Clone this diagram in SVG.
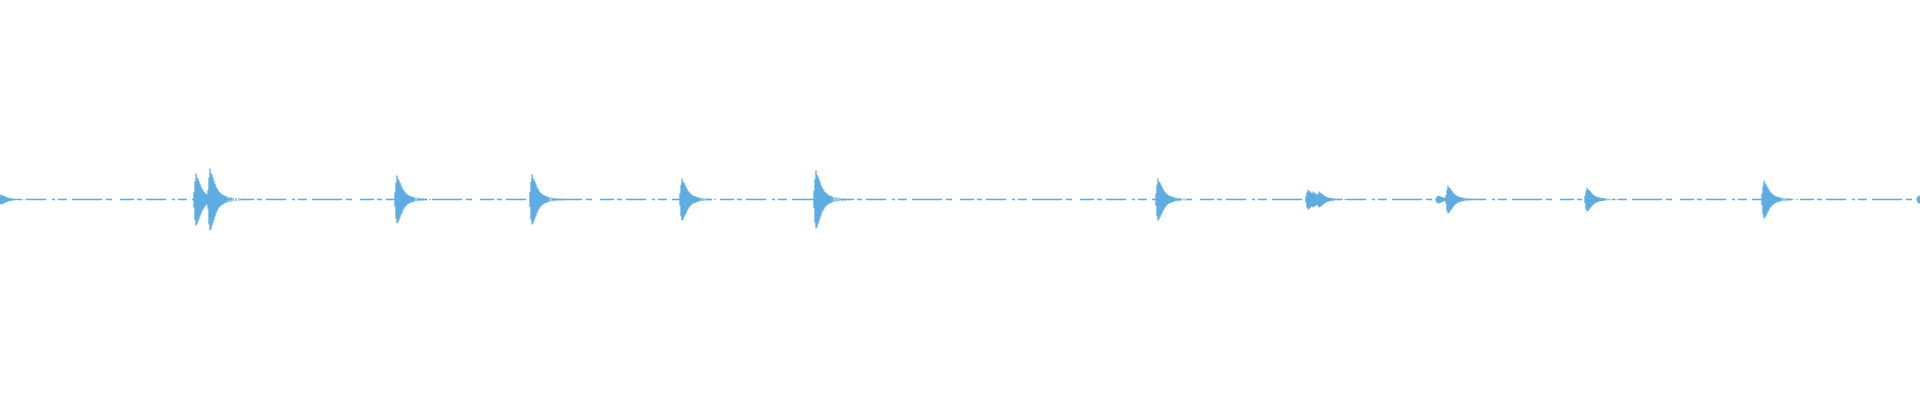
<svg xmlns="http://www.w3.org/2000/svg" width="1920" height="400" viewBox="0 0 1920 400">
<style>.w{stroke:#5dade2;fill:none}.b{stroke-width:1.3;vector-effect:non-scaling-stroke}</style>
<defs>
<path id="burst" class="w b" d="M-1,-0.3V0.3M0,-0.7V0.8M1,-1V1M2,-0.85V0.95M3,-0.8V0.85M4,-0.7V0.75M5,-0.6V0.65M6,-0.5V0.55M7,-0.42V0.45M8,-0.36V0.38M9,-0.3V0.32M10,-0.26V0.27M11,-0.22V0.22M12,-0.19V0.19M13,-0.17V0.17M14,-0.15V0.15M15,-0.13V0.13M16,-0.12V0.12M17,-0.1V0.1M18,-0.09V0.09M20,-0.08V0.08M22,-0.07V0.07M24,-0.06V0.06M27,-0.05V0.05M30,-0.04V0.04M34,-0.03V0.03"/>
</defs>
<rect width="1920" height="400" fill="#fff"/>
<g id="baseline"><path class="w" stroke-width="1.5" stroke-dasharray="14 3 5 4 20 6 3 3 9 5 30 4 6 8" d="M0,199.5H1920"/></g>
<g id="bursts">
<use href="#burst" transform="translate(0,199.5) scale(1,5)"/>
<use href="#burst" transform="translate(195,199.5) scale(1,26)"/>
<use href="#burst" transform="translate(209,199.5) scale(1,31)"/>
<use href="#burst" transform="translate(396,199.5) scale(1,24)"/>
<use href="#burst" transform="translate(531,199.5) scale(1,25)"/>
<use href="#burst" transform="translate(681,199.5) scale(1,21)"/>
<use href="#burst" transform="translate(815,199.5) scale(1,29)"/>
<use href="#burst" transform="translate(1157,199.5) scale(1,21)"/>
<use href="#burst" transform="translate(1307,199.5) scale(1,10)"/>
<use href="#burst" transform="translate(1312,199.5) scale(1,8)"/>
<use href="#burst" transform="translate(1318,199.5) scale(1,8)"/>
<use href="#burst" transform="translate(1437,199.5) scale(1,4)"/>
<use href="#burst" transform="translate(1447,199.5) scale(1,14)"/>
<use href="#burst" transform="translate(1586,199.5) scale(1,12)"/>
<use href="#burst" transform="translate(1763,199.5) scale(1,19)"/>
<use href="#burst" transform="translate(1918,199.5) scale(1,4)"/>
</g>
</svg>
